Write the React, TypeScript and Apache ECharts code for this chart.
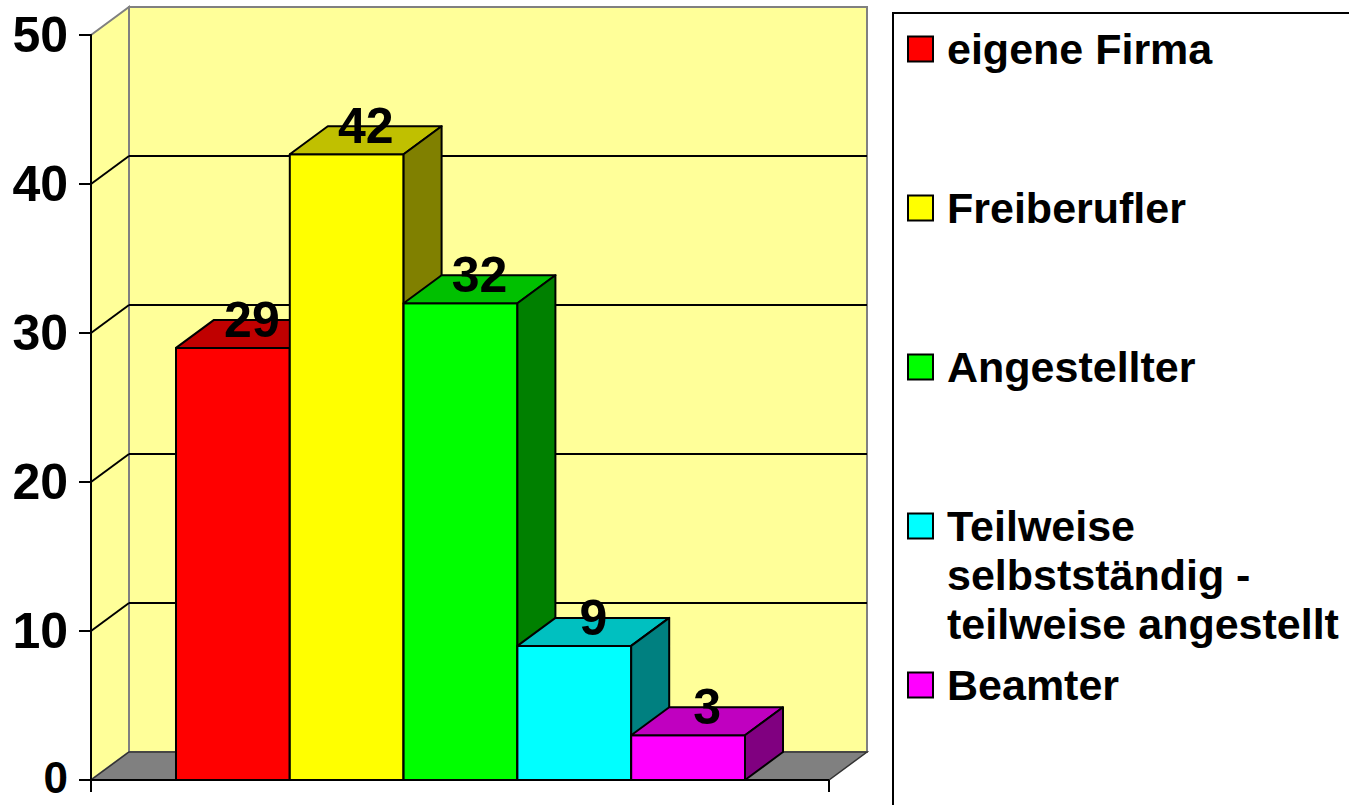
import React, { useEffect, useRef } from "react";
import * as echarts from "echarts";

const categories = [
  "eigene Firma",
  "Freiberufler",
  "Angestellter",
  "Teilweise selbstständig - teilweise angestellt",
  "Beamter",
];
const values = [29, 42, 32, 9, 3];
const frontColors = ["#FF0000", "#FFFF00", "#00FF00", "#00FFFF", "#FF00FF"];
const topColors = ["#C00000", "#C0C000", "#00C000", "#00C0C0", "#C000C0"];
const sideColors = ["#800000", "#808000", "#008000", "#008080", "#800080"];
const legendLabels = [
  "eigene Firma",
  "Freiberufler",
  "Angestellter",
  "Teilweise\nselbstständig -\nteilweise angestellt",
  "Beamter",
];
const yMin = 0;
const yMax = 50;
const yStep = 10;

const DX = 38;
const DY = -28;
const WALL_LEFT = 85;
const WALL_RIGHT = 84;
const FONT = '"Liberation Sans", Arial, Helvetica, sans-serif';

function renderWalls(params: any, api: any) {
  const cs = params.coordSys;
  const left = cs.x - WALL_LEFT;
  const right = cs.x + cs.width + WALL_RIGHT;
  const y0 = api.coord([0, yMin])[1];
  const yT = api.coord([0, yMax])[1];
  const children: any[] = [];
  // left wall
  children.push({
    type: "polygon",
    shape: { points: [[left, yT], [left + DX, yT + DY], [left + DX, y0 + DY], [left, y0]] },
    style: { fill: "#FFFF99", stroke: "#808080", lineWidth: 2 },
  });
  // back wall
  children.push({
    type: "rect",
    shape: { x: left + DX, y: yT + DY, width: right - left, height: y0 - yT },
    style: { fill: "#FFFF99", stroke: "#808080", lineWidth: 2 },
  });
  // gridlines
  for (let v = yMin + yStep; v < yMax; v += yStep) {
    const y = api.coord([0, v])[1];
    children.push({
      type: "line",
      shape: { x1: left + DX, y1: y + DY, x2: right + DX, y2: y + DY },
      style: { stroke: "#000", lineWidth: 2 },
    });
    children.push({
      type: "line",
      shape: { x1: left, y1: y, x2: left + DX, y2: y + DY },
      style: { stroke: "#000", lineWidth: 2 },
    });
  }
  // floor
  children.push({
    type: "polygon",
    shape: { points: [[left, y0], [right, y0], [right + DX, y0 + DY], [left + DX, y0 + DY]] },
    style: { fill: "#808080", stroke: "#333", lineWidth: 1.5 },
  });
  // bottom axis line and ticks
  children.push({
    type: "line",
    shape: { x1: left, y1: y0, x2: right, y2: y0 },
    style: { stroke: "#000", lineWidth: 2 },
  });
  children.push({
    type: "line",
    shape: { x1: left, y1: y0, x2: left, y2: y0 + 12 },
    style: { stroke: "#000", lineWidth: 2 },
  });
  children.push({
    type: "line",
    shape: { x1: right, y1: y0, x2: right, y2: y0 + 12 },
    style: { stroke: "#000", lineWidth: 2 },
  });
  return { type: "group", children };
}

function renderBars(params: any, api: any) {
  const i = api.value(0);
  const v = api.value(1);
  const idx = params.dataIndex;
  const top = api.coord([i, v]);
  const yB = api.coord([i, 0])[1];
  const w = api.size([1, 0])[0];
  const cx = top[0];
  const yT = top[1];
  const L = cx - w / 2;
  const R = cx + w / 2;
  const line = { stroke: "#000", lineWidth: 2, lineJoin: "round" };
  return {
    type: "group",
    children: [
      {
        type: "rect",
        shape: { x: L, y: yT, width: w, height: yB - yT },
        style: { fill: frontColors[idx], ...line },
      },
      {
        type: "polygon",
        shape: { points: [[L, yT], [R, yT], [R + DX, yT + DY], [L + DX, yT + DY]] },
        style: { fill: topColors[idx], ...line },
      },
      {
        type: "polygon",
        shape: { points: [[R, yT], [R + DX, yT + DY], [R + DX, yB + DY], [R, yB]] },
        style: { fill: sideColors[idx], ...line },
      },
      {
        type: "text",
        z2: 10,
        x: cx + DX / 2,
        y: yT + DY,
        style: {
          text: String(v),
          fill: "#000",
          fontSize: 50,
          fontWeight: "bold",
          fontFamily: FONT,
          align: "center",
          verticalAlign: "middle",
        },
      },
    ],
  };
}

const LEGEND_X = 893;
const LEGEND_Y = 13;
const LEGEND_FIRST = 49;
const LEGEND_STEP = 159;
const LEGEND_LINE = 49;

function legendGraphic() {
  const els: any[] = [
    {
      type: "rect",
      shape: { x: LEGEND_X, y: LEGEND_Y, width: 520, height: 900 },
      style: { fill: "#FFFFFF", stroke: "#000", lineWidth: 2 },
    },
  ];
  legendLabels.forEach((label, i) => {
    const cy = LEGEND_FIRST + i * LEGEND_STEP;
    els.push({
      type: "rect",
      shape: { x: LEGEND_X + 15, y: cy - 12.5, width: 25, height: 25 },
      style: { fill: frontColors[i], stroke: "#000", lineWidth: 2 },
    });
    els.push({
      type: "text",
      x: LEGEND_X + 54,
      y: cy - LEGEND_LINE / 2,
      style: {
        text: label,
        fill: "#000",
        fontSize: 43,
        fontWeight: "bold",
        fontFamily: FONT,
        lineHeight: LEGEND_LINE,
        align: "left",
        verticalAlign: "top",
      },
    });
  });
  return els;
}

export default function App() {
  const ref = useRef<HTMLDivElement>(null);
  useEffect(() => {
    const chart = echarts.init(ref.current!, null, { renderer: "svg" });
    chart.setOption({
      animation: false,
      backgroundColor: "#FFFFFF",
      grid: { left: 176, right: 604, top: 35, bottom: 25, containLabel: false },
      xAxis: { type: "category", data: categories, show: false, boundaryGap: true },
      yAxis: {
        type: "value",
        min: yMin,
        max: yMax,
        interval: yStep,
        offset: WALL_LEFT,
        z: 10,
        axisLine: { show: true, lineStyle: { color: "#000", width: 2 } },
        axisTick: { show: true, length: 12, lineStyle: { color: "#000", width: 2 } },
        axisLabel: {
          margin: 23,
          color: "#000",
          fontSize: 50,
          fontWeight: "bold",
          fontFamily: FONT,
          formatter: (val: number) => (val === yMin ? "{zero|" + val + "}" : String(val)),
          rich: {
            zero: {
              fontSize: 44,
              fontWeight: "bold",
              fontFamily: FONT,
              color: "#000",
              padding: [0, 0, 6, 0],
            },
          },
        },
        splitLine: { show: false },
      },
      series: [
        {
          type: "custom",
          name: "walls",
          z: 1,
          silent: true,
          data: [[0, 0]],
          renderItem: renderWalls,
        },
        {
          type: "custom",
          name: "bars",
          z: 2,
          data: values.map((v, i) => [i, v]),
          encode: { x: 0, y: 1 },
          renderItem: renderBars,
        },
      ],
      graphic: legendGraphic(),
    });
    return () => chart.dispose();
  }, []);
  return (
    <div
      ref={ref}
      style={{ position: "absolute", left: 0, top: 0, width: 1349, height: 805 }}
    />
  );
}
